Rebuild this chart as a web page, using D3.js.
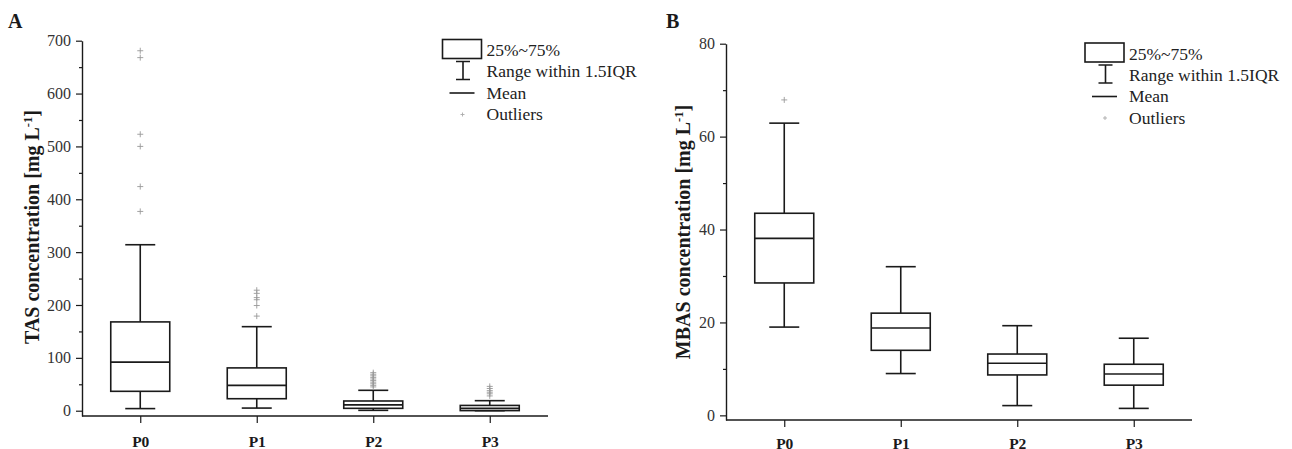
<!DOCTYPE html>
<html>
<head>
<meta charset="utf-8">
<script src="https://cdn.jsdelivr.net/npm/d3@7"></script>
<style>
  html, body { margin: 0; padding: 0; background: #fff; }
  svg { display: block; font-family: "Liberation Serif", "Times New Roman", serif; }
</style>
</head>
<body>
<svg id="chart" width="1292" height="449"></svg>
<script>
// Sampling points
const categories = ["P0", "P1", "P2", "P3"];

// TAS concentration (mg/L): box statistics per sampling point
const tasWhiskerLow  = [4, 5, 0.7, 0];
const tasQ1          = [36.7, 22.7, 4.5, 0.2];
const tasMean        = [92, 48, 11, 4.5];
const tasQ3          = [168, 81, 18.4, 10];
const tasWhiskerHigh = [314, 159, 38.6, 19];
const tasOutliers = [
  [681, 668, 523, 500, 424, 377],
  [228, 222, 214, 210, 199, 179],
  [72, 69, 66, 63, 60, 57, 54, 51, 48, 45],
  [46, 42, 38, 35, 32, 28]
];
const tasTicks = [0, 100, 200, 300, 400, 500, 600, 700];
const tasMinorTicks = [50, 150, 250, 350, 450, 550, 650];

// MBAS concentration (mg/L): box statistics per sampling point
const mbasWhiskerLow  = [19.0, 9.0, 2.1, 1.5];
const mbasQ1          = [28.5, 14.0, 8.7, 6.5];
const mbasMean        = [38.1, 18.8, 11.2, 8.9];
const mbasQ3          = [43.5, 22.0, 13.2, 11.0];
const mbasWhiskerHigh = [62.9, 32.0, 19.3, 16.6];
const mbasOutliers = [[67.9], [], [], []];
const mbasTicks = [0, 20, 40, 60, 80];
const mbasMinorTicks = [10, 30, 50, 70];

const legendLabels = ["25%~75%", "Range within 1.5IQR", "Mean", "Outliers"];

const svg = d3.select("#chart");
const INK = "#1a1a1a";
const SERIF = "Liberation Serif, Times New Roman, serif";

function drawPanel(p) {
  const g = svg.append("g");

  const x = d3.scalePoint().domain(categories).range([p.left, p.right]).padding(0.5);
  const y = d3.scaleLinear().domain(p.domain).range([p.bottom, p.top]);

  // panel letter
  g.append("text").attr("x", p.letterX).attr("y", 28)
    .attr("font-family", SERIF).attr("font-size", 20).attr("font-weight", "bold").attr("fill", INK)
    .text(p.letter);

  // y axis: major ticks
  const yAxis = g.append("g").attr("transform", `translate(${p.left},0)`)
    .call(d3.axisLeft(y).tickValues(p.ticks).tickSize(6).tickSizeOuter(0).tickPadding(5));
  yAxis.select(".domain").attr("stroke", INK).attr("stroke-width", 1.4);
  yAxis.selectAll(".tick line").attr("stroke", INK).attr("stroke-width", 1.2);
  yAxis.selectAll(".tick text")
    .attr("font-family", SERIF).attr("font-size", 16).attr("fill", "#333");
  // minor ticks
  g.append("g").attr("transform", `translate(${p.left},0)`)
    .call(d3.axisLeft(y).tickValues(p.minorTicks).tickSize(3).tickSizeOuter(0).tickFormat(""))
    .call(s => s.select(".domain").remove())
    .call(s => s.selectAll(".tick line").attr("stroke", INK).attr("stroke-width", 1.2));

  // x axis
  const xAxis = g.append("g").attr("transform", `translate(0,${p.bottom})`)
    .call(d3.axisBottom(x).tickSize(7).tickSizeOuter(0).tickPadding(p.xPad));
  xAxis.select(".domain").attr("stroke", INK).attr("stroke-width", 1.4)
    .attr("d", `M${p.left},0H${p.right}`);
  xAxis.selectAll(".tick line").attr("stroke", INK).attr("stroke-width", 1.2);
  xAxis.selectAll(".tick text")
    .attr("font-family", SERIF).attr("font-size", 15.5)
    .attr("font-weight", "bold").attr("fill", INK);

  // y axis title
  const title = g.append("text")
    .attr("transform", `translate(${p.titleX},${p.titleY}) rotate(-90)`)
    .attr("text-anchor", "middle").attr("font-family", SERIF)
    .attr("font-size", 20).attr("font-weight", "bold").attr("fill", INK);
  title.append("tspan").text(p.titleText + " [mg L");
  title.append("tspan").attr("baseline-shift", "super").attr("font-size", 12.5).text("-1");
  title.append("tspan").text("]");

  // boxes
  const boxW = 59, capW = 30;
  const rows = categories.map((c, i) => ({
    c, lo: p.lo[i], q1: p.q1[i], mean: p.mean[i], q3: p.q3[i], hi: p.hi[i], out: p.out[i]
  }));
  const box = g.selectAll(".box").data(rows).join("g").attr("class", "box")
    .attr("transform", d => `translate(${x(d.c)},0)`);
  const line = (sel) => sel.attr("stroke", INK).attr("stroke-width", 1.6).attr("fill", "none");

  box.append("line").call(line).attr("x1", 0).attr("x2", 0)
    .attr("y1", d => y(d.q3)).attr("y2", d => y(d.hi));
  box.append("line").call(line).attr("x1", 0).attr("x2", 0)
    .attr("y1", d => y(d.q1)).attr("y2", d => y(d.lo));
  box.append("line").call(line).attr("x1", -capW / 2).attr("x2", capW / 2)
    .attr("y1", d => y(d.hi)).attr("y2", d => y(d.hi));
  box.append("line").call(line).attr("x1", -capW / 2).attr("x2", capW / 2)
    .attr("y1", d => y(d.lo)).attr("y2", d => y(d.lo));
  box.append("rect").call(line).attr("fill", "#fff")
    .attr("x", -boxW / 2).attr("width", boxW)
    .attr("y", d => y(d.q3)).attr("height", d => y(d.q1) - y(d.q3));
  box.append("line").call(line).attr("x1", -boxW / 2).attr("x2", boxW / 2)
    .attr("y1", d => y(d.mean)).attr("y2", d => y(d.mean));

  // outliers as small crosses
  box.selectAll(".out").data(d => d.out).join("path").attr("class", "out")
    .attr("transform", v => `translate(0,${y(v)})`)
    .attr("d", "M-3,0H3M0,-3V3")
    .attr("stroke", "#999").attr("stroke-width", 0.9).attr("fill", "none");

  // legend
  const L = g.append("g").attr("transform", `translate(${p.legendX},${p.legendY})`);
  L.append("rect").attr("x", 0).attr("y", 0).attr("width", 39).attr("height", 19)
    .attr("fill", "none").attr("stroke", INK).attr("stroke-width", 1.6);
  L.append("path").attr("d", "M13.5,22H27.5M20.5,22V40M13.5,40H27.5")
    .attr("stroke", INK).attr("stroke-width", 1.6).attr("fill", "none");
  L.append("path").attr("d", "M7,53.5H32").attr("stroke", INK).attr("stroke-width", 1.6);
  L.append("path").attr("d", "M18,75H22M20,73V77").attr("stroke", "#aaa").attr("stroke-width", 0.9);
  L.selectAll(".lt").data(legendLabels).join("text").attr("class", "lt")
    .attr("x", 44).attr("y", (d, i) => 16.5 + i * 21.4)
    .attr("font-family", SERIF).attr("font-size", 17.5).attr("fill", "#222").text(d => d);
}

drawPanel({
  letter: "A", letterX: 8,
  left: 82, right: 548, top: 40.7, bottom: 416, domain: [-10, 700],
  ticks: tasTicks, minorTicks: tasMinorTicks, xPad: 13,
  titleText: "TAS concentration", titleX: 39, titleY: 227,
  lo: tasWhiskerLow, q1: tasQ1, mean: tasMean, q3: tasQ3, hi: tasWhiskerHigh, out: tasOutliers,
  legendX: 442.5, legendY: 39.5
});

drawPanel({
  letter: "B", letterX: 666,
  left: 726, right: 1192, top: 43.7, bottom: 420, domain: [-1, 80],
  ticks: mbasTicks, minorTicks: mbasMinorTicks, xPad: 11,
  titleText: "MBAS concentration", titleX: 690, titleY: 232,
  lo: mbasWhiskerLow, q1: mbasQ1, mean: mbasMean, q3: mbasQ3, hi: mbasWhiskerHigh, out: mbasOutliers,
  legendX: 1085, legendY: 43
});
</script>
</body>
</html>
